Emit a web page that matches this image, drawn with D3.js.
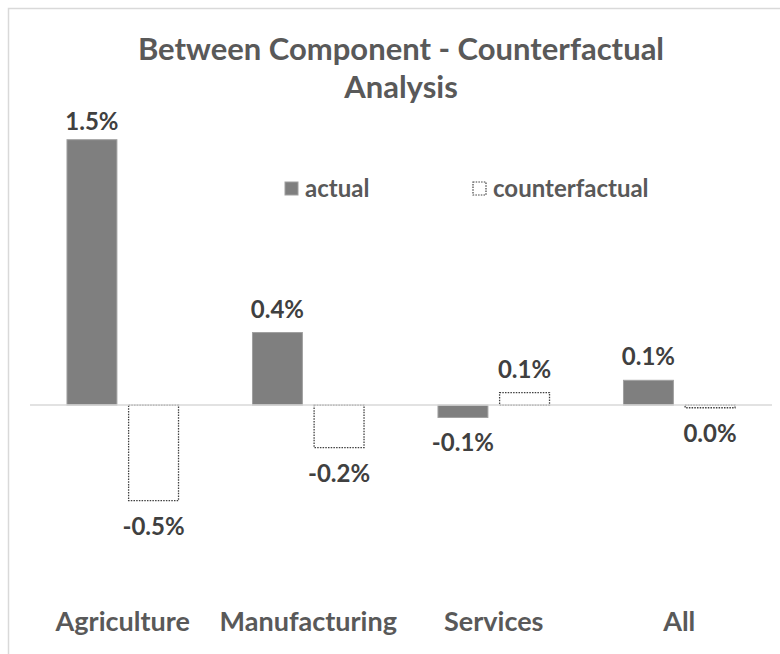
<!DOCTYPE html>
<html>
<head>
<meta charset="utf-8">
<script src="https://cdn.jsdelivr.net/npm/d3@7"></script>
<style>
  html, body { margin: 0; padding: 0; background: #fff; }
  svg text { font-family: Lato, "Open Sans", sans-serif; font-weight: bold; }
</style>
</head>
<body>
<svg id="chart" width="780" height="654"></svg>
<script>
// Sector shares of the between component, in percent
const categories = ["Agriculture", "Manufacturing", "Services", "All"];
const seriesNames = ["actual", "counterfactual"];
const actualValues = [1.50, 0.41, -0.07, 0.14];
const counterfactualValues = [-0.54, -0.24, 0.07, -0.015];
const titleLines = ["Between Component - Counterfactual", "Analysis"];

const seriesValues = { actual: actualValues, counterfactual: counterfactualValues };
const rows = categories.map((c, i) => ({
  category: c,
  bars: seriesNames.map(s => ({ series: s, value: seriesValues[s][i] }))
}));

const svg = d3.select("#chart");

// chart frame
svg.append("path")
  .attr("d", "M8.5,800 V8.5 H800")
  .attr("fill", "none")
  .attr("stroke", "#d9d9d9")
  .attr("stroke-width", 1.5);

const x0 = d3.scaleBand().domain(categories).range([30, 772]).padding(0);
const x1 = d3.scaleBand().domain(seriesNames).range([0, x0.bandwidth()])
  .paddingInner(0.19).paddingOuter(0.6);
const y = d3.scaleLinear().domain([-1, 1.6]).range([582, 122]);

const fmt = v => {
  const r = Math.round(v * 10) / 10;
  return (r === 0 ? 0 : r).toFixed(1) + "%";
};

// title
svg.append("g").selectAll("text")
  .data(titleLines)
  .join("text")
  .attr("x", 401)
  .attr("y", (d, i) => 60 + i * 38)
  .attr("text-anchor", "middle")
  .attr("fill", "#595959")
  .attr("font-size", 31)
  .text(d => d);

const groups = svg.append("g").selectAll("g")
  .data(rows)
  .join("g")
  .attr("transform", d => `translate(${x0(d.category)},0)`);

groups.selectAll("rect")
  .data(d => d.bars)
  .join("rect")
  .attr("x", d => x1(d.series))
  .attr("width", x1.bandwidth())
  .attr("y", d => y(Math.max(0, d.value)))
  .attr("height", d => Math.abs(y(d.value) - y(0)))
  .attr("fill", d => d.series === "actual" ? "#7f7f7f" : "#ffffff")
  .attr("stroke", d => d.series === "actual" ? "#a0a0a0" : "#404040")
  .attr("stroke-width", d => d.series === "actual" ? 1 : 1.3)
  .attr("stroke-dasharray", d => d.series === "actual" ? null : "1.5,1.2");

// zero line
svg.append("line")
  .attr("x1", 30).attr("x2", 772)
  .attr("y1", y(0)).attr("y2", y(0))
  .attr("stroke", "#d9d9d9")
  .attr("stroke-width", 1.5);

// value labels
groups.selectAll("text.value")
  .data(d => d.bars)
  .join("text")
  .attr("class", "value")
  .attr("x", d => x1(d.series) + x1.bandwidth() / 2)
  .attr("y", d => d.value >= 0 ? Math.max(130, y(d.value) - 15) : y(d.value) + 34)
  .attr("text-anchor", "middle")
  .attr("fill", "#404040")
  .attr("font-size", 24)
  .text(d => fmt(d.value));

// category labels
svg.append("g").selectAll("text")
  .data(categories)
  .join("text")
  .attr("x", d => x0(d) + x0.bandwidth() / 2)
  .attr("y", 631)
  .attr("text-anchor", "middle")
  .attr("fill", "#595959")
  .attr("font-size", 27)
  .text(d => d);

// legend
const legend = svg.append("g");
const legendItems = [
  { series: "actual", x: 285 },
  { series: "counterfactual", x: 473 }
];
legend.selectAll("rect")
  .data(legendItems)
  .join("rect")
  .attr("x", d => d.x)
  .attr("y", 182)
  .attr("width", 13)
  .attr("height", 13)
  .attr("fill", d => d.series === "actual" ? "#7f7f7f" : "#ffffff")
  .attr("stroke", d => d.series === "actual" ? "#a0a0a0" : "#404040")
  .attr("stroke-width", d => d.series === "actual" ? 1 : 1.2)
  .attr("stroke-dasharray", d => d.series === "actual" ? null : "1.5,1.2");
legend.selectAll("text")
  .data(legendItems)
  .join("text")
  .attr("x", d => d.x + 20)
  .attr("y", 197)
  .attr("fill", "#595959")
  .attr("font-size", 24)
  .text(d => d.series);
</script>
</body>
</html>
